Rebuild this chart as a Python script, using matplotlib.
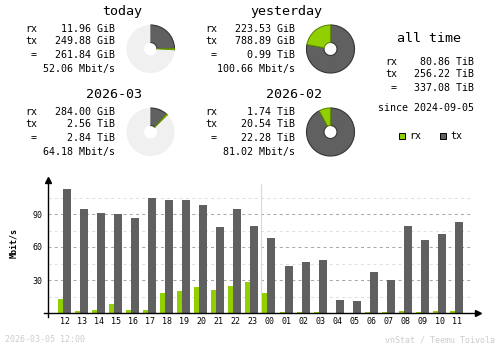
import numpy as np
import matplotlib
matplotlib.use('Agg')
import matplotlib.pyplot as plt

# --- datos ---
hours = ['12', '13', '14', '15', '16', '17', '18', '19', '20', '21', '22', '23',
         '00', '01', '02', '03', '04', '05', '06', '07', '08', '09', '10', '11']
rx_rate = [13.0, 2.1, 3.0, 8.5, 3.0, 3.0, 18.5, 20.3, 23.9, 21.2, 24.8, 28.5,
           18.5, 1.2, 1.2, 1.2, 0.0, 0.0, 1.2, 1.2, 2.1, 1.2, 2.1, 2.1]
tx_rate = [113.0, 94.8, 91.2, 90.3, 86.7, 104.8, 103.0, 103.0, 98.5, 78.5, 94.8, 79.4,
           68.5, 43.0, 46.7, 48.5, 12.1, 11.2, 37.6, 29.7, 79.4, 66.7, 72.1, 83.0]

periods = ['today', 'yesterday', '2026-03', '2026-02']
rx_txt = ['11.96 GiB', '223.53 GiB', '284.00 GiB', '1.74 TiB']
tx_txt = ['249.88 GiB', '788.89 GiB', '2.56 TiB', '20.54 TiB']
tot_txt = ['261.84 GiB', '0.99 TiB', '2.84 TiB', '22.28 TiB']
rate_txt = ['52.06 Mbit/s', '100.66 Mbit/s', '64.18 Mbit/s', '81.02 Mbit/s']

alltime_rx = '80.86 TiB'
alltime_tx = '256.22 TiB'
alltime_tot = '337.08 TiB'
since = 'since 2024-09-05'
stamp = '2026-03-05 12:00'

RX = '#92cf00'
TX = '#606060'
BG = '#f0f0f0'
MONO = 'DejaVu Sans Mono'


def gib(s):
    v, u = s.split()
    return float(v) * (1024 if u == 'TiB' else 1)


fig = plt.figure(figsize=(5, 3.48), dpi=100)
lay = fig.add_axes([0, 0, 1, 1], zorder=0)
lay.set_xlim(0, 500)
lay.set_ylim(348, 0)
lay.axis('off')

# --- bloques de resumen ---
for i, name in enumerate(periods):
    dx = 180 * (i % 2)
    dy = 83 * (i // 2)
    lay.text(142 + dx, 12 + dy, name, family=MONO, fontsize=9.6, ha='right', va='center')
    rows = [('rx', rx_txt[i]), ('tx', tx_txt[i]), (' =', tot_txt[i])]
    for k, (lab, val) in enumerate(rows):
        y = [29, 41, 55][k] + dy
        lay.text(25 + dx, y, lab, family=MONO, fontsize=7.2, ha='left', va='center')
        lay.text(115 + dx, y, val, family=MONO, fontsize=7.2, ha='right', va='center')
    lay.text(115 + dx, 69 + dy, rate_txt[i], family=MONO, fontsize=7.2, ha='right', va='center')

    # donut: escala respecto al periodo anterior
    tot = gib(rx_txt[i]) + gib(tx_txt[i])
    prev = gib(rx_txt[i + 1]) + gib(tx_txt[i + 1]) if i % 2 == 0 else tot
    full = max(tot, prev)
    cx, cy, r = 150.5 + dx, 49 + dy, 24.5
    pax = fig.add_axes([(cx - r) / 500, 1 - (cy + r) / 348, 2 * r / 500, 2 * r / 348])
    w, _ = pax.pie([gib(tx_txt[i]), gib(rx_txt[i]), max(full - tot, 0)],
                   colors=[TX, RX, BG], startangle=90, counterclock=False,
                   wedgeprops=dict(width=0.73, linewidth=0))
    w[0].set_edgecolor('#353535')
    w[0].set_linewidth(0.8)
    w[1].set_edgecolor('#5e8a00')
    w[1].set_linewidth(0.8)
    pax.set_xlim(-1.02, 1.02)
    pax.set_ylim(-1.02, 1.02)

# all time
lay.text(429, 39, 'all time', family=MONO, fontsize=9.6, ha='center', va='center')
for k, (lab, val) in enumerate([('rx', alltime_rx), ('tx', alltime_tx), (' =', alltime_tot)]):
    y = [62, 74, 88][k]
    lay.text(385, y, lab, family=MONO, fontsize=7.2, ha='left', va='center')
    lay.text(474, y, val, family=MONO, fontsize=7.2, ha='right', va='center')
lay.text(426, 108, since, family=MONO, fontsize=7.2, ha='center', va='center')

# leyenda
for x0, col, lab in [(399, RX, 'rx'), (440, TX, 'tx')]:
    lay.add_patch(plt.Rectangle((x0, 133), 6, 6, facecolor=col, edgecolor='black', linewidth=0.7))
    lay.text(x0 + 10, 136, lab, family=MONO, fontsize=7.2, ha='left', va='center')

# pie de pagina
lay.text(5, 340, stamp, family=MONO, fontsize=6, color='#cccccc', ha='left', va='center')
lay.text(495, 340, 'vnStat / Teemu Toivola', family=MONO, fontsize=6, color='#cccccc',
         ha='right', va='center')

# --- grafico horario ---
x0p, x1p, y0p, y1p = 48.3, 478, 313, 180
ax = fig.add_axes([x0p / 500, 1 - y0p / 348, (x1p - x0p) / 500, (y0p - y1p) / 348], zorder=2)
ax.patch.set_alpha(0)
step = 17.04
xmin = (x0p - 65) / step
xmax = (x1p - 65) / step
ax.set_xlim(xmin, xmax)
ax.set_ylim(0, (y0p - y1p) / 1.1)

x = np.arange(len(hours))
grid_end = (472.7 - 65) / step
for v in [15, 45, 75, 105]:
    ax.hlines(v, xmin, grid_end, colors='#e0e0e0', linewidth=0.75, linestyles=(0, (2.9, 3.1)), zorder=1)
for v in [30, 60, 90]:
    ax.hlines(v, xmin, grid_end, colors='#a8a8a8', linewidth=0.75, linestyles=(0, (2.9, 3.1)), zorder=1)
ax.vlines(11.5, 0, (y0p - 184) / 1.1, colors='#d8d8d8', linewidth=0.8, zorder=1)

ax.bar(x - 4.5 / step, rx_rate, width=5 / step, color=RX, linewidth=0, zorder=2)
ax.bar(x + 2 / step, tx_rate, width=8 / step, color=TX, linewidth=0, zorder=3)

for s in ax.spines.values():
    s.set_visible(False)
ax.plot([0, 0], [-3.5 / 1.1 / (y0p - y1p) * 1.1, 0.985], color='black', linewidth=1.0,
        transform=ax.transAxes, clip_on=False, zorder=4)
ax.plot([-4 / (x1p - x0p), 0.99], [0, 0], color='black', linewidth=1.0,
        transform=ax.transAxes, clip_on=False, zorder=4)
ax.plot([0], [1.0], marker='^', markersize=4, color='black', transform=ax.transAxes, clip_on=False, zorder=5)
ax.plot([1.0], [0], marker='>', markersize=4, color='black', transform=ax.transAxes, clip_on=False, zorder=5)

ax.set_xticks(x)
ax.set_xticklabels(hours, family=MONO, fontsize=6)
ax.set_yticks([30, 60, 90])
ax.set_yticklabels(['30', '60', '90'], family=MONO, fontsize=6)
ax.tick_params(length=0)
ax.tick_params(axis='x', pad=3)
ax.tick_params(axis='y', pad=4.5)
lay.text(14, 243, 'Mbit/s', family=MONO, fontsize=6, fontweight='bold', rotation=90,
         ha='center', va='center')

fig.savefig('out.png', dpi=100)
